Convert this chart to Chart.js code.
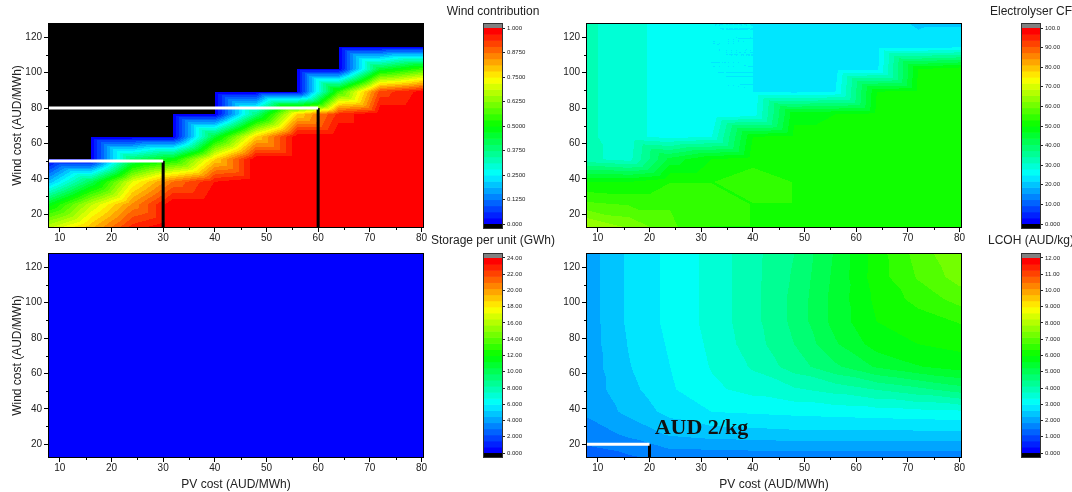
<!DOCTYPE html>
<html>
<head>
<meta charset="utf-8">
<script src="https://cdn.jsdelivr.net/npm/chart.js@4.4.0/dist/chart.umd.min.js"></script>
<style>
body { margin: 0; background: #fff; }
#wrap { position: relative; width: 1072px; height: 492px; overflow: hidden; background: #fff; }
canvas { position: absolute; }
</style>
</head>
<body>
<div id="wrap"></div>
<script>
// grid of the runs
var pvCost = [8, 16, 24, 32, 40, 48, 56, 64, 72, 80];
var windCost = [12.75, 25.5, 38.25, 51, 63.75, 76.5, 89.25, 102, 114.75, 127.5];

// rows follow windCost (low -> high), columns follow pvCost
// null = no wind in the mix (drawn black, below the colour scale)
var windContribution = [
  [0.68, 0.80, 0.95, 1.00, 1.00, 1.00, 1.00, 1.00, 1.00, 1.00],
  [0.48, 0.68, 0.85, 1.00, 1.00, 1.00, 1.00, 1.00, 1.00, 1.00],
  [0.20, 0.42, 0.72, 0.88, 0.97, 1.00, 1.00, 1.00, 1.00, 1.00],
  [null, null, 0.40, 0.50, 0.78, 1.00, 1.00, 1.00, 1.00, 1.00],
  [null, null, null, null, 0.45, 0.78, 1.00, 1.00, 1.00, 1.00],
  [null, null, null, null, null, 0.38, 0.78, 0.95, 1.00, 1.00],
  [null, null, null, null, null, null, null, 0.55, 0.92, 0.98],
  [null, null, null, null, null, null, null, null, 0.45, 0.55],
  [null, null, null, null, null, null, null, null, null, null],
  [null, null, null, null, null, null, null, null, null, null]
];

var electrolyserCF = [
  [66, 62, 57, 53, 53, 53, 53, 53, 53, 53],
  [57, 56, 56, 55, 53, 53, 53, 53, 53, 53],
  [50, 50, 53, 53, 55, 53, 53, 53, 53, 53],
  [32, 30, 45, 50, 52, 52, 52, 53, 53, 53],
  [32, 29, 27, 28, 50, 51, 51, 52, 52, 52],
  [32, 29, 27, 25, 26, 49, 50, 51, 52, 52],
  [32, 29, 27, 25, 25, 24, 25, 50, 51, 52],
  [32, 29, 27, 25, 25, 23.5, 23.5, 24, 50, 52],
  [32, 29, 27, 25, 25, 23.5, 23.5, 23.5, 23, 24],
  [32, 29, 27, 25, 25, 23.5, 23.5, 23.5, 21.5, 21.5]
];

var storagePerUnit = [
  [0, 0, 0, 0, 0, 0, 0, 0, 0, 0],
  [0, 0, 0, 0, 0, 0, 0, 0, 0, 0],
  [0, 0, 0, 0, 0, 0, 0, 0, 0, 0],
  [0, 0, 0, 0, 0, 0, 0, 0, 0, 0],
  [0, 0, 0, 0, 0, 0, 0, 0, 0, 0],
  [0, 0, 0, 0, 0, 0, 0, 0, 0, 0],
  [0, 0, 0, 0, 0, 0, 0, 0, 0, 0],
  [0, 0, 0, 0, 0, 0, 0, 0, 0, 0],
  [0, 0, 0, 0, 0, 0, 0, 0, 0, 0],
  [0, 0, 0, 0, 0, 0, 0, 0, 0, 0]
];

var lcoh = [
  [1.35, 1.45, 1.65, 1.65, 1.65, 1.65, 1.65, 1.65, 1.65, 1.65],
  [1.65, 1.95, 2.30, 2.40, 2.45, 2.50, 2.50, 2.50, 2.50, 2.50],
  [1.95, 2.35, 2.75, 3.00, 3.05, 3.10, 3.15, 3.20, 3.25, 3.30],
  [2.05, 2.50, 2.95, 3.30, 3.50, 3.70, 3.90, 4.15, 4.40, 4.70],
  [2.05, 2.60, 3.00, 3.40, 3.80, 4.30, 4.80, 5.30, 5.60, 5.80],
  [2.05, 2.65, 3.05, 3.45, 3.95, 4.50, 5.20, 5.80, 6.00, 6.10],
  [2.05, 2.70, 3.10, 3.50, 4.00, 4.60, 5.40, 6.00, 6.20, 6.40],
  [2.05, 2.70, 3.10, 3.50, 4.00, 4.60, 5.40, 6.10, 6.50, 6.90],
  [2.05, 2.70, 3.10, 3.50, 4.00, 4.55, 5.35, 6.20, 6.80, 7.30],
  [2.05, 2.70, 3.10, 3.50, 4.00, 4.50, 5.30, 6.20, 6.90, 7.50]
];

// highlighted points
var windMarkPV = [30, 60];
var windMarkWind = [50, 80];
var lcohMarkPV = [20];
var lcohMarkWind = [20];
var lcohNote = { pv: 21, wind: 25.5, text: 'AUD 2/kg' };

// axis ticks
var pvTicks = [10, 20, 30, 40, 50, 60, 70, 80];
var pvMinor = [15, 25, 35, 45, 55, 65, 75];
var windTicks = [20, 40, 60, 80, 100, 120];
var windMinor = [30, 50, 70, 90, 110];

// colour bar ticks
var windScaleTicks = [1, 0.875, 0.75, 0.625, 0.5, 0.375, 0.25, 0.125, 0];
var windScaleLabels = ['1.000', '0.8750', '0.7500', '0.6250', '0.5000', '0.3750', '0.2500', '0.1250', '0.000'];
var cfScaleTicks = [100, 90, 80, 70, 60, 50, 40, 30, 20, 10, 0];
var cfScaleLabels = ['100.0', '90.00', '80.00', '70.00', '60.00', '50.00', '40.00', '30.00', '20.00', '10.00', '0.000'];
var storageScaleTicks = [24, 22, 20, 18, 16, 14, 12, 10, 8, 6, 4, 2, 0];
var storageScaleLabels = ['24.00', '22.00', '20.00', '18.00', '16.00', '14.00', '12.00', '10.00', '8.000', '6.000', '4.000', '2.000', '0.000'];
var lcohScaleTicks = [12, 11, 10, 9, 8, 7, 6, 5, 4, 3, 2, 1, 0];
var lcohScaleLabels = ['12.00', '11.00', '10.00', '9.000', '8.000', '7.000', '6.000', '5.000', '4.000', '3.000', '2.000', '1.000', '0.000'];

var X_MIN = 7.9, X_MAX = 80.3;
var Y_MIN = 12.75, Y_MAX = 127.5;
var N_LEVELS = 32;

Chart.defaults.font.family = '"Liberation Sans", Arial, sans-serif';
Chart.defaults.color = '#222';

var stops = [[0, [0, 0, 255]], [0.25, [0, 255, 255]], [0.5, [0, 255, 0]], [0.75, [255, 255, 0]], [1, [255, 0, 0]]];

function rainbow(t) {
	for (var i = 1; i < stops.length; i++) {
		if (t <= stops[i][0]) {
			var a = stops[i - 1], b = stops[i];
			var f = (t - a[0]) / (b[0] - a[0]);
			return [0, 1, 2].map(function (k) { return Math.round(a[1][k] + (b[1][k] - a[1][k]) * f); });
		}
	}
	return stops[stops.length - 1][1];
}

function levelColor(v, max) {
	if (v === null) return [0, 0, 0];
	var k = Math.floor(v / max * N_LEVELS);
	if (k < 0) return [0, 0, 0];
	if (k > N_LEVELS - 1) k = N_LEVELS - 1;
	return rainbow(k / (N_LEVELS - 1));
}

// linear interpolation on triangles of the grid
function valueAt(grid, x, y) {
	x = Math.min(Math.max(x, pvCost[0]), pvCost[pvCost.length - 1]);
	y = Math.min(Math.max(y, windCost[0]), windCost[windCost.length - 1]);
	var i = 0, j = 0;
	while (i < pvCost.length - 2 && x > pvCost[i + 1]) i++;
	while (j < windCost.length - 2 && y > windCost[j + 1]) j++;
	var u = (x - pvCost[i]) / (pvCost[i + 1] - pvCost[i]);
	var v = (y - windCost[j]) / (windCost[j + 1] - windCost[j]);
	var bl = grid[j][i], br = grid[j][i + 1], tl = grid[j + 1][i], tr = grid[j + 1][i + 1];
	var a, b, c, wa, wb, wc;
	if (u + v <= 1) { a = bl; b = br; c = tl; wa = 1 - u - v; wb = u; wc = v; }
	else { a = tr; b = tl; c = br; wa = u + v - 1; wb = 1 - u; wc = 1 - v; }
	if (a === null && b === null && c === null) return null;
	return (a || 0) * wa + (b || 0) * wb + (c || 0) * wc;
}

var heatmapPlugin = {
	id: 'heatmap',
	beforeDatasetsDraw: function (chart, args, opts) {
		var a = chart.chartArea, xs = chart.scales.x, ys = chart.scales.y;
		var w = Math.round(a.right - a.left), h = Math.round(a.bottom - a.top);
		var off = document.createElement('canvas');
		off.width = w; off.height = h;
		var octx = off.getContext('2d');
		var img = octx.createImageData(w, h);
		for (var py = 0; py < h; py++) {
			var yv = ys.getValueForPixel(a.top + py + 0.5);
			for (var px = 0; px < w; px++) {
				var xv = xs.getValueForPixel(a.left + px + 0.5);
				var c = levelColor(valueAt(opts.grid, xv, yv), opts.max);
				var o = (py * w + px) * 4;
				img.data[o] = c[0]; img.data[o + 1] = c[1]; img.data[o + 2] = c[2]; img.data[o + 3] = 255;
			}
		}
		octx.putImageData(img, 0, 0);
		chart.ctx.drawImage(off, a.left, a.top);
	},
	afterDatasetsDraw: function (chart, args, opts) {
		var ctx = chart.ctx, a = chart.chartArea, xs = chart.scales.x, ys = chart.scales.y;
		ctx.save();
		ctx.strokeStyle = '#000';
		ctx.lineWidth = 1;
		ctx.strokeRect(a.left - 0.5, a.top - 0.5, a.right - a.left + 1, a.bottom - a.top + 1);
		ctx.beginPath();
		pvMinor.forEach(function (v) {
			var p = Math.round(xs.getPixelForValue(v)) + 0.5;
			ctx.moveTo(p, a.bottom); ctx.lineTo(p, a.bottom + 3);
		});
		windMinor.forEach(function (v) {
			var p = Math.round(ys.getPixelForValue(v)) + 0.5;
			ctx.moveTo(a.left, p); ctx.lineTo(a.left - 3, p);
		});
		ctx.stroke();
		if (opts.note) {
			ctx.fillStyle = '#111';
			ctx.font = 'bold 22px "Liberation Serif", "Times New Roman", serif';
			ctx.textBaseline = 'alphabetic';
			ctx.fillText(opts.note.text, xs.getPixelForValue(opts.note.pv), ys.getPixelForValue(opts.note.wind));
		}
		ctx.restore();
	}
};

function markerSets(pv, wind) {
	var sets = [];
	for (var i = 0; i < pv.length; i++) {
		sets.push({ data: [{ x: X_MIN, y: wind[i] }, { x: pv[i], y: wind[i] }], showLine: true,
			borderColor: '#fff', borderWidth: 3, pointRadius: 0 });
		sets.push({ data: [{ x: pv[i], y: wind[i] }, { x: pv[i], y: Y_MIN }], showLine: true,
			borderColor: '#000', borderWidth: 3, pointRadius: 0 });
	}
	return sets;
}

function addCanvas(left, top, w, h) {
	var c = document.createElement('canvas');
	c.width = w; c.height = h;
	c.style.left = left + 'px'; c.style.top = top + 'px';
	c.style.width = w + 'px'; c.style.height = h + 'px';
	document.getElementById('wrap').appendChild(c);
	return c;
}

function heatmap(cfg) {
	var el = addCanvas(cfg.left, cfg.top, 440, cfg.height);
	return new Chart(el, {
		type: 'scatter',
		data: { datasets: cfg.datasets || [] },
		options: {
			responsive: false,
			animation: false,
			events: [],
			layout: { padding: { top: cfg.padTop, right: cfg.padRight, left: 0, bottom: 0 } },
			plugins: {
				legend: { display: false },
				tooltip: { enabled: false },
				heatmap: { grid: cfg.grid, max: cfg.max, note: cfg.note }
			},
			scales: {
				x: {
					type: 'linear', min: X_MIN, max: X_MAX,
					afterBuildTicks: function (s) { s.ticks = pvTicks.map(function (v) { return { value: v }; }); },
					afterFit: function (s) { s.height = cfg.xHeight; },
					ticks: { font: { size: 10 }, padding: 0, maxRotation: 0, autoSkip: false },
					grid: { drawOnChartArea: false, tickLength: 5, color: '#000' },
					border: { display: false },
					title: { display: !!cfg.xTitle, text: cfg.xTitle || '', font: { size: 12 }, padding: { top: 0, bottom: 0 } }
				},
				y: {
					type: 'linear', min: Y_MIN, max: Y_MAX,
					afterBuildTicks: function (s) { s.ticks = windTicks.map(function (v) { return { value: v }; }); },
					afterFit: function (s) { s.width = cfg.yWidth; },
					ticks: { font: { size: 10 }, padding: 2, autoSkip: false },
					grid: { drawOnChartArea: false, tickLength: 5, color: '#000' },
					border: { display: false },
					title: { display: !!cfg.yTitle, text: cfg.yTitle || '', font: { size: 12 }, padding: { top: 10, bottom: 0 } }
				}
			}
		},
		plugins: [heatmapPlugin]
	});
}

var colorbarPlugin = {
	id: 'colorbar',
	beforeDatasetsDraw: function (chart, args, opts) {
		var ctx = chart.ctx, a = chart.chartArea, ys = chart.scales.y;
		var step = opts.max / N_LEVELS;
		ctx.save();
		for (var k = 0; k < N_LEVELS; k++) {
			var c = rainbow(k / (N_LEVELS - 1));
			var y0 = ys.getPixelForValue(k * step), y1 = ys.getPixelForValue((k + 1) * step);
			ctx.fillStyle = 'rgb(' + c.join(',') + ')';
			ctx.fillRect(a.left, y1, a.right - a.left, y0 - y1 + 0.6);
		}
		ctx.fillStyle = '#808080';
		ctx.fillRect(a.left, a.top, a.right - a.left, ys.getPixelForValue(opts.max) - a.top);
		ctx.fillStyle = '#000';
		ctx.fillRect(a.left, ys.getPixelForValue(0), a.right - a.left, a.bottom - ys.getPixelForValue(0));
		ctx.strokeStyle = '#333';
		ctx.lineWidth = 1;
		ctx.strokeRect(a.left - 0.5, a.top - 0.5, a.right - a.left + 1, a.bottom - a.top + 1);
		ctx.fillStyle = '#222';
		ctx.font = '12px "Liberation Sans", Arial, sans-serif';
		ctx.textAlign = 'center';
		ctx.textBaseline = 'middle';
		ctx.fillText(opts.title, (a.left + a.right) / 2, a.top - opts.titleGap);
		ctx.restore();
	}
};

function colorbar(cfg) {
	var el = addCanvas(cfg.left, cfg.top, cfg.width, 240);
	var cap = cfg.max * 4 / 196;
	return new Chart(el, {
		type: 'scatter',
		data: { datasets: [] },
		options: {
			responsive: false,
			animation: false,
			events: [],
			layout: { padding: { top: cfg.padTop, bottom: cfg.padBottom, left: cfg.padLeft, right: 0 } },
			plugins: {
				legend: { display: false },
				tooltip: { enabled: false },
				colorbar: { max: cfg.max, title: cfg.title, titleGap: cfg.titleGap }
			},
			scales: {
				x: { display: false, min: 0, max: 1 },
				y: {
					position: 'right', min: -cap, max: cfg.max + cap,
					afterBuildTicks: function (s) { s.ticks = cfg.ticks.map(function (v) { return { value: v }; }); },
					afterFit: function (s) { s.width = cfg.width - cfg.padLeft - 18; },
					ticks: {
						font: { size: 6 }, padding: 2, autoSkip: false, color: '#222',
						callback: function (v, i) { return cfg.labels[i]; }
					},
					grid: { drawOnChartArea: false, tickLength: 3, color: '#222' },
					border: { display: false }
				}
			}
		},
		plugins: [colorbarPlugin]
	});
}

// top left: wind contribution
heatmap({ left: 0, top: 0, height: 245, padTop: 24, padRight: 17, xHeight: 18, yWidth: 49,
	yTitle: 'Wind cost (AUD/MWh)', grid: windContribution, max: 1,
	datasets: markerSets(windMarkPV, windMarkWind) });
colorbar({ left: 423, top: 0, width: 140, padTop: 24, padBottom: 12, padLeft: 61, max: 1,
	ticks: windScaleTicks, labels: windScaleLabels, title: 'Wind contribution', titleGap: 12 });

// top right: electrolyser capacity factor
heatmap({ left: 540, top: 0, height: 245, padTop: 24, padRight: 19, xHeight: 18, yWidth: 47,
	grid: electrolyserCF, max: 100 });
colorbar({ left: 975, top: 0, width: 97, padTop: 24, padBottom: 12, padLeft: 47, max: 100,
	ticks: cfScaleTicks, labels: cfScaleLabels, title: 'Electrolyser CF', titleGap: 12 });

// bottom left: storage
heatmap({ left: 0, top: 245, height: 247, padTop: 9, padRight: 17, xHeight: 35, yWidth: 49,
	yTitle: 'Wind cost (AUD/MWh)', xTitle: 'PV cost (AUD/MWh)', grid: storagePerUnit, max: 24 });
colorbar({ left: 423, top: 228, width: 140, padTop: 26, padBottom: 11, padLeft: 61, max: 24,
	ticks: storageScaleTicks, labels: storageScaleLabels, title: 'Storage per unit (GWh)', titleGap: 13 });

// bottom right: LCOH
heatmap({ left: 540, top: 245, height: 247, padTop: 9, padRight: 19, xHeight: 35, yWidth: 47,
	xTitle: 'PV cost (AUD/MWh)', grid: lcoh, max: 12, note: lcohNote,
	datasets: markerSets(lcohMarkPV, lcohMarkWind) });
colorbar({ left: 975, top: 228, width: 97, padTop: 26, padBottom: 11, padLeft: 47, max: 12,
	ticks: lcohScaleTicks, labels: lcohScaleLabels, title: 'LCOH (AUD/kg)', titleGap: 13 });
</script>
</body>
</html>
